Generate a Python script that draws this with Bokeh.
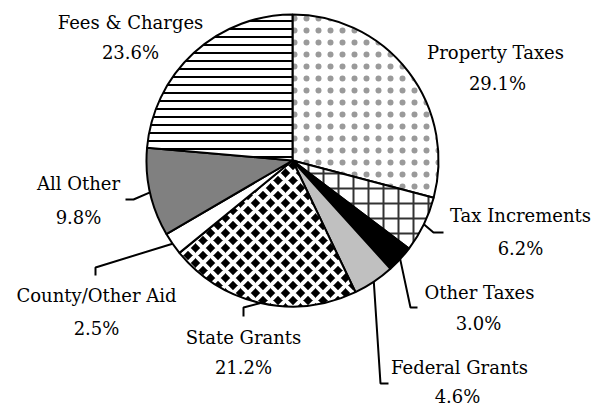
import numpy as np
from bokeh.plotting import figure
from bokeh.models import Range1d, ColumnDataSource
from bokeh.core.properties import value
from bokeh.embed import file_html
from bokeh.resources import INLINE

# ---- data ----
categories = ["Property Taxes", "Tax Increments", "Other Taxes", "Federal Grants",
              "State Grants", "County/Other Aid", "All Other", "Fees & Charges"]
shares = [29.1, 6.2, 3.0, 4.6, 21.2, 2.5, 9.8, 23.6]

# ---- styles ----
fill_colors = ["white", "white", "black", "#C0C0C0", "black", "white", "#808080", "white"]
hatch_patterns = ["dot", "cross", None, None, "diagonal_cross", None, None, "horizontal_line"]
hatch_colors = ["#9a9a9a", "#333333", "black", "black", "white", "black", "black", "black"]
hatch_scales = [12, 15, 12, 12, 15, 12, 12, 8]
hatch_weights = [0.5, 2, 1, 1, 4, 1, 1, 2]
FONT = "DejaVu Serif"

# ---- layout (page pixel coordinates, y downwards) ----
W, H = 608, 407
CX, CY, R = 292, 160, 146
name_pos = [(495, 52), (520, 215), (479, 292), (459, 367), (243, 337), (96, 295), (78, 183), (130, 22)]
pct_pos = [(497, 83), (520, 248), (478, 323), (457, 396), (243, 367), (96, 328), (78, 217), (130, 52)]
leaders = [None,
           [(433, 232), (443, 232)],
           [(410, 307), (417, 307)],
           [(380, 383), (388, 383)],
           [(243, 307), (243, 316)],
           [(95, 267), (95, 275)],
           [(133, 199), (125, 199)],
           None]

def fy(y):
    return H - y

p = figure(width=W, height=H, x_range=Range1d(0, W), y_range=Range1d(0, H),
           output_backend="svg", toolbar_location=None, min_border=0)
p.axis.visible = False
p.grid.visible = False
p.outline_line_color = None

vals = np.array(shares, dtype=float)
frac = vals / vals.sum()
cum = np.concatenate([[0], np.cumsum(frac)])
start = np.pi / 2 - cum[:-1] * 2 * np.pi
end = np.pi / 2 - cum[1:] * 2 * np.pi
mid = (start + end) / 2

for i in range(len(categories)):
    kw = {}
    if hatch_patterns[i]:
        kw = dict(hatch_pattern=hatch_patterns[i], hatch_color=hatch_colors[i],
                  hatch_scale=hatch_scales[i], hatch_weight=hatch_weights[i])
    p.wedge(x=[CX], y=[fy(CY)], radius=R, start_angle=[start[i]], end_angle=[end[i]],
            direction="clock", fill_color=fill_colors[i], line_color="black",
            line_width=2, **kw)

for i, ld in enumerate(leaders):
    if ld is None:
        continue
    sx = CX + R * np.cos(mid[i])
    sy = fy(CY) + R * np.sin(mid[i])
    xs = [sx] + [q[0] for q in ld]
    ys = [sy] + [fy(q[1]) for q in ld]
    p.line(xs, ys, line_color="black", line_width=2)

src = ColumnDataSource(dict(
    x=[q[0] for q in name_pos], y=[fy(q[1]) for q in name_pos], t=categories))
src2 = ColumnDataSource(dict(
    x=[q[0] for q in pct_pos], y=[fy(q[1]) for q in pct_pos],
    t=[f"{v:.1f}%" for v in shares]))
for s in (src, src2):
    p.text(x="x", y="y", text="t", source=s, text_font=value(FONT),
           text_font_size="18px", text_align="center", text_baseline="middle",
           text_color="black")

open("out.html", "w").write(file_html(p, INLINE))
